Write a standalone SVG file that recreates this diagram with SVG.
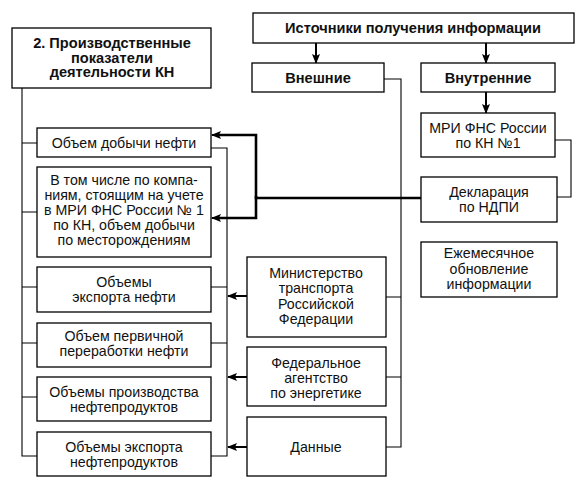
<svg xmlns="http://www.w3.org/2000/svg" width="579" height="491" viewBox="0 0 579 491">
<defs>
<marker id="ah" markerUnits="userSpaceOnUse" markerWidth="10" markerHeight="8" refX="9" refY="4" orient="auto">
<path d="M0,0 L10,4 L0,8 L2,4 Z" fill="#000"/>
</marker>
<style>
rect{fill:#fff;stroke:#000;stroke-width:1.3}
text{font-family:"Liberation Sans",Arial,sans-serif;font-size:14.2px;text-anchor:middle;fill:#111}
.b{font-weight:bold;font-size:14.6px}
.c{fill:none;stroke:#000;stroke-width:1.1}
.t{fill:none;stroke:#000;stroke-width:2.6}
.a{fill:none;stroke:#000;stroke-width:2;marker-end:url(#ah)}
</style>
</defs>
<rect width="579" height="491" style="fill:#fff;stroke:none"/>
<g id="connectors">
<path class="c" d="M22,88 V456 H37 M22,143 H37 M22,212 H37 M22,287 H37 M22,343 H37 M22,397 H37"/>
<path class="c" d="M211,148 H227 V456 H211 M211,287 H227 M211,343 H227"/>
<path class="c" d="M384,79 H401 V447 H386 M401,297 H386 M401,377 H386"/>
<path class="c" d="M555,140 H571 V197 H557"/>
<path class="a" d="M316,43 V63"/>
<path class="a" d="M486,43 V63"/>
<path class="a" d="M486,92 V113"/>
<path class="t" d="M421,198 H256 V135 H220"/>
<path class="t" d="M256,196 V218 H220"/>
<path class="a" d="M222,135 H212"/>
<path class="a" d="M222,218 H212"/>
<path class="a" d="M247,296 H228"/>
<path class="a" d="M247,377 H228"/>
<path class="a" d="M247,447 H228"/>
</g>
<g id="header"><rect x="12" y="28" width="199" height="60"/>
<text class="b" x="112" y="48">2. Производственные</text>
<text class="b" x="112" y="62.5">показатели</text>
<text class="b" x="112" y="77">деятельности КН</text></g>
<g id="sources"><rect x="253" y="13" width="321" height="30"/>
<text class="b" x="413" y="33">Источники получения информации</text></g>
<g id="external"><rect x="252" y="63" width="132" height="29"/>
<text class="b" x="318" y="83">Внешние</text></g>
<g id="internal"><rect x="421" y="63" width="134" height="29"/>
<text class="b" x="488" y="83">Внутренние</text></g>
<g id="mri"><rect x="421" y="113" width="134" height="44"/>
<text x="488" y="132.5">МРИ ФНС России</text>
<text x="488" y="147.5">по КН №1</text></g>
<g id="decl"><rect x="421" y="177" width="136" height="45"/>
<text x="489" y="196.5">Декларация</text>
<text x="489" y="211.5">по НДПИ</text></g>
<g id="monthly"><rect x="421" y="242" width="136" height="55"/>
<text x="489" y="257.5">Ежемесячное</text>
<text x="489" y="273.5">обновление</text>
<text x="489" y="289">информации</text></g>
<g id="mintrans"><rect x="247" y="257" width="139" height="80"/>
<text x="316" y="277.5">Министерство</text>
<text x="316" y="293">транспорта</text>
<text x="316" y="308.5">Российской</text>
<text x="316" y="323.5">Федерации</text></g>
<g id="fedagency"><rect x="247" y="347" width="139" height="59"/>
<text x="316" y="367.5">Федеральное</text>
<text x="316" y="382.5">агентство</text>
<text x="316" y="397.5">по энергетике</text></g>
<g id="data"><rect x="247" y="417" width="139" height="59"/>
<text x="316" y="451.5">Данные</text></g>
<g id="l1"><rect x="37" y="128" width="174" height="29"/>
<text x="124" y="147.5">Объем добычи нефти</text></g>
<g id="l2"><rect x="37" y="167" width="174" height="90"/>
<text x="124" y="184.5">В том числе по компа-</text>
<text x="124" y="199.5">ниям, стоящим на учете</text>
<text x="124" y="214.5">в МРИ ФНС России № 1</text>
<text x="124" y="229.5">по КН, объем добычи</text>
<text x="124" y="244.5">по месторождениям</text></g>
<g id="l3"><rect x="37" y="267" width="174" height="45"/>
<text x="124" y="286.5">Объемы</text>
<text x="124" y="301.5">экспорта нефти</text></g>
<g id="l4"><rect x="37" y="323" width="174" height="44"/>
<text x="124" y="340.5">Объем первичной</text>
<text x="124" y="356">переработки нефти</text></g>
<g id="l5"><rect x="37" y="377" width="174" height="44"/>
<text x="124" y="396.5">Объемы производства</text>
<text x="124" y="411.5">нефтепродуктов</text></g>
<g id="l6"><rect x="37" y="432" width="174" height="44"/>
<text x="124" y="451.5">Объемы экспорта</text>
<text x="124" y="466.5">нефтепродуктов</text></g>
</svg>
